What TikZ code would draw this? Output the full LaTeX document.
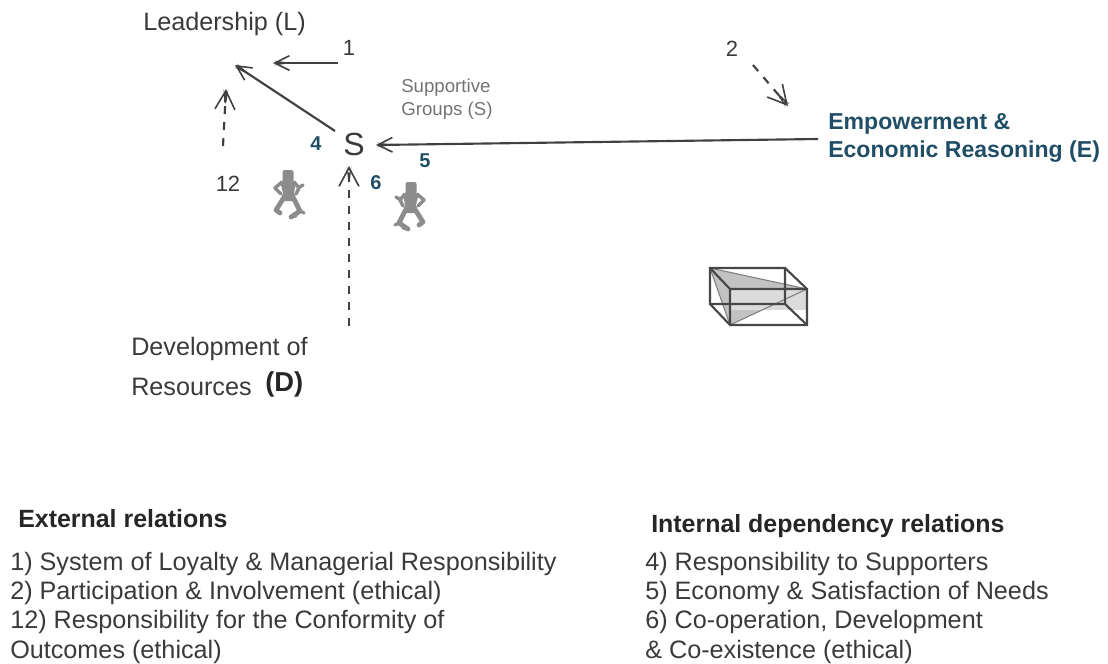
\documentclass[tikz,border=0pt]{standalone}
\usepackage{fontspec}
\setmainfont{Liberation Sans}
\usetikzlibrary{arrows.meta}
\definecolor{tealtxt}{HTML}{1F4E66}
\definecolor{txtg}{HTML}{3A3A3A}
\definecolor{arr}{HTML}{404040}
\tikzset{
  lab/.style={inner sep=0pt,anchor=west,text=txtg,font=\fontsize{18.9}{22}\selectfont},
  bold/.style={inner sep=0pt,anchor=west,text=black!85,font=\fontsize{18.7}{22}\selectfont\bfseries},
  num/.style={inner sep=0pt,text=txtg,font=\fontsize{16.5}{18}\selectfont},
  tnum/.style={inner sep=0pt,text=tealtxt,font=\fontsize{15}{15}\selectfont\bfseries},
  small/.style={inner sep=0pt,anchor=west,text=black!55,font=\fontsize{14}{17.5}\selectfont,align=left},
  conn/.style={draw=arr,line width=1.6pt,-{Stealth[length=11pt,width=2.8pt,sep=-11pt]Straight Barb[length=11pt,width=11pt,line width=1.2pt]}},
  dconn/.style={draw=arr,line width=1.6pt,dash pattern=on 6pt off 6pt,-{Stealth[length=14pt,width=2.8pt,sep=-14pt]Straight Barb[length=14pt,width=15pt,line width=1.2pt]}},
  boxline/.style={draw=black!72,line width=1.6pt},
  fig/.style={draw=black!45,line width=3.6pt,line cap=round,line join=round}
}
\begin{document}
\begin{tikzpicture}[x=0.75pt,y=-0.75pt]
\useasboundingbox (0,0) rectangle (1108,664);
% labels
\node[lab] (L) at (143,24) {Leadership (L)};
\node[num] (n1) at (349,48) {1};
\node[num] (n2) at (732,49) {2};
\node[num] (n12) at (228,184) {12};
\node[small] (sg) at (401,99) {Supportive\\Groups (S)};
\node[inner sep=0pt,text=txtg,font=\fontsize{24}{26}\selectfont] (S) at (354,144) {S};
\node[tnum] (n4) at (316,144) {4};
\node[tnum] (n5) at (425,161) {5};
\node[tnum] (n6) at (376,183) {6};
\node[inner sep=0pt,anchor=west,align=left,text=tealtxt,font=\fontsize{17.3}{20.5}\selectfont\bfseries] (E) at (828,138) {Empowerment \&\\Economic Reasoning (E)};
\node[lab] (D1) at (131,349) {Development of};
\node[lab] (D2) at (131,386.5) {Resources};
\node[inner sep=0pt,anchor=west,text=black!85,font=\fontsize{20.5}{18}\selectfont\bfseries] (D3) at (265,384) {(D)};
% connector ends
\coordinate (a1s) at (338,63);
\coordinate (a1e) at (273,63);
\coordinate (aLs) at (335,131);
\coordinate (aLe) at (235,65);
\coordinate (a12s) at (223,146);
\coordinate (a12e) at (226,89);
\coordinate (a2s) at (753,65);
\coordinate (a2e) at (788,106);
\coordinate (aEs) at (818,139);
\coordinate (aEe) at (376,145);
\coordinate (aDs) at (349,326);
\coordinate (aDe) at (349,166);
\draw[conn] (a1s) -- (a1e);
\draw[conn] (aLs) -- (aLe);
\draw[dconn] (a12s) -- (a12e);
\draw[dconn] (a2s) -- (a2e);
\draw[conn] (aEs) -- (aEe);
\draw[dconn] (aDs) -- (aDe);
% figures
\foreach \ox/\oy/\sx in {288/190/1, 411/202/-1}{
  \begin{scope}[shift={(\ox,\oy)},xscale=\sx]
    \fill[black!45,rounded corners=1.5pt] (-5.5,-20) rectangle (5.5,-8);
    \fill[black!45] (-8,-9) -- (8,-9) -- (6,3) -- (9,11) -- (-8,11) -- (-5,3) -- cycle;
    \draw[fig] (-5,9) -- (-12,20) -- (-8,23);
    \draw[fig] (6,9) -- (12,21) -- (3,27);
    \draw[fig,line width=2.4pt] (3,27) -- (8,26) (12,21) -- (16,23);
    \draw[fig,line width=2.6pt] (-6,-8) -- (-13,-2) -- (-7,4);
    \draw[fig,line width=2.6pt] (6,-8) -- (11,-2) -- (8,4) (10,-2) -- (15,-5);
  \end{scope}
}
% box
\fill[black!24] (710,268) -- (807,289) -- (730,325) -- cycle;
\fill[black!14] (730,289) rectangle (807,310);
\draw[draw=black!50,line width=.8pt] (710,268) -- (807,289) (730,325) -- (807,289) (710,268) -- (730,325);
\draw[boxline] (710,268) -- (785,268) -- (807,289) -- (807,325) -- (730,325) -- (710,304) -- cycle;
\draw[boxline] (710,268) -- (730,289) -- (807,289) (730,289) -- (730,325);
\draw[boxline] (785,268) -- (785,304) -- (710,304) (785,304) -- (807,325);
% lower text
\node[bold] (h1) at (18,519) {External relations};
\node[lab] (e1) at (10,563.5) {1) System of Loyalty \& Managerial Responsibility};
\node[lab] (e2) at (10,592.5) {2) Participation \& Involvement (ethical)};
\node[lab] (e3) at (10,621.5) {12) Responsibility for the Conformity of};
\node[lab] (e4) at (10,651.5) {Outcomes (ethical)};
\node[bold] (h2) at (651,526) {Internal dependency relations};
\node[lab] (i1) at (645,563.5) {4) Responsibility to Supporters};
\node[lab] (i2) at (645,592.5) {5) Economy \& Satisfaction of Needs};
\node[lab] (i3) at (645,621.5) {6) Co-operation, Development};
\node[lab] (i4) at (645,652) {\& Co-existence (ethical)};
\end{tikzpicture}
\end{document}
